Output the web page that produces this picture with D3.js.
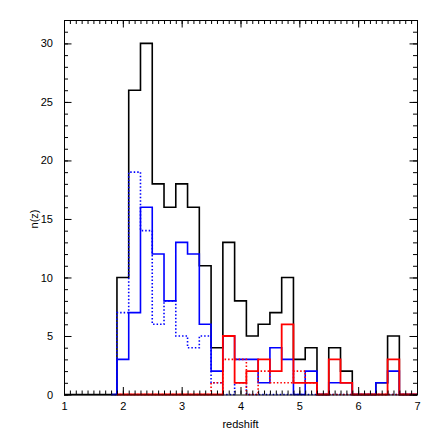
<!DOCTYPE html>
<html>
<head>
<meta charset="utf-8">
<script src="https://cdn.jsdelivr.net/npm/d3@7"></script>
<style>
  body { margin: 0; background: #fff; }
  svg { display: block; }
  .axis text { font: 11px "Liberation Sans", Arial, sans-serif; fill: #000; }
  .axis line { stroke: #000; }
</style>
</head>
<body>
<svg width="436" height="436"></svg>
<script>
// bin edges in redshift (bin width 0.2)
const binEdges = [1.9, 2.1, 2.3, 2.5, 2.7, 2.9, 3.1, 3.3, 3.5, 3.7, 3.9, 4.1, 4.3,
                  4.5, 4.7, 4.9, 5.1, 5.3, 5.5, 5.7, 5.9, 6.1, 6.3, 6.5, 6.7, 6.9];

// counts per bin
const totalCounts   = [10, 26, 30, 18, 16, 18, 16, 11, 4, 13, 8, 5, 6, 7, 10, 3, 4, 0, 4, 2, 0, 0, 1, 5, 0];
const blueCounts    = [3, 7, 16, 12, 8, 13, 12, 6, 2, 5, 3, 3, 1, 4, 3, 0, 2, 0, 1, 1, 0, 0, 1, 2, 0];
const blueDotCounts = [7, 19, 14, 6, 8, 5, 4, 5, 1, 0, 1, 0, 0, 0, 0, 0, 0, 0, 0, 0, 0, 0, 0, 0, 0];
const redCounts     = [0, 0, 0, 0, 0, 0, 0, 0, 0, 5, 1, 2, 3, 2, 6, 1, 1, 0, 3, 1, 0, 0, 0, 3, 0];
const redDotCounts  = [0, 0, 0, 0, 0, 0, 0, 0, 1, 3, 3, 0, 2, 1, 1, 2, 1, 0, 0, 0, 0, 0, 0, 0, 0];

// where each histogram starts running along zero
const lineStarts = [1.0, 1.8, 1.8, 3.4, 3.4];

const xTicks = [1, 2, 3, 4, 5, 6, 7];
const yTicks = [0, 5, 10, 15, 20, 25, 30];

let svg = d3.select("svg"),
    margin = {top: 20, right: 417, bottom: 394.5, left: 64};

let x = d3.scaleLinear().domain([1, 7]).range([margin.left, margin.right]),
    y = d3.scaleLinear().domain([0, 32]).range([margin.bottom, margin.top]);

let line = d3.line()
    .x((d) => x(d[0]))
    .y((d) => y(d[1]))
    .curve(d3.curveStepAfter);

let steps = (counts, start) => {
  let pts = [[start, 0]];
  counts.forEach((c, i) => pts.push([binEdges[i], c]));
  pts.push([binEdges[binEdges.length - 1], 0]);
  pts.push([7, 0]);
  return pts;
};

let series = [
  {counts: totalCounts,   start: lineStarts[0], color: "#000",    width: 1.6, dash: null},
  {counts: blueDotCounts, start: lineStarts[2], color: "#0000ff", width: 1.6, dash: "1.5,2"},
  {counts: blueCounts,    start: lineStarts[1], color: "#0000ff", width: 1.6, dash: null},
  {counts: redDotCounts,  start: lineStarts[4], color: "#ff0000", width: 1.6, dash: "1.5,2"},
  {counts: redCounts,     start: lineStarts[3], color: "#ff0000", width: 1.8, dash: null}
];

svg.selectAll(".hist")
  .data(series)
  .enter().append("path")
    .attr("class", "hist")
    .attr("fill", "none")
    .attr("stroke", (d) => d.color)
    .attr("stroke-width", (d) => d.width)
    .attr("stroke-dasharray", (d) => d.dash)
    .attr("d", (d) => line(steps(d.counts, d.start)));

// minor ticks
let xMinor = d3.range(10, 71).map((v) => v / 10),
    yMinor = d3.range(0, 33);

let addAxis = (axis, tx, ty) => {
  let g = svg.append("g")
      .attr("class", "axis")
      .attr("transform", "translate(" + tx + "," + ty + ")")
      .call(axis);
  g.select(".domain").remove();
  return g;
};

addAxis(d3.axisBottom(x).tickValues(xMinor).tickSize(-4).tickFormat(""), 0, margin.bottom);
addAxis(d3.axisTop(x).tickValues(xMinor).tickSize(-4).tickFormat(""), 0, margin.top);
addAxis(d3.axisLeft(y).tickValues(yMinor).tickSize(-4).tickFormat(""), margin.left, 0);
addAxis(d3.axisRight(y).tickValues(yMinor).tickSize(-4).tickFormat(""), margin.right, 0);

addAxis(d3.axisBottom(x).tickValues(xTicks).tickSize(-7.5).tickPadding(8).tickFormat(d3.format("d")), 0, margin.bottom);
addAxis(d3.axisTop(x).tickValues(xTicks).tickSize(-7.5).tickFormat(""), 0, margin.top);
addAxis(d3.axisLeft(y).tickValues(yTicks).tickSize(-7.5).tickPadding(11).tickFormat(d3.format("d")), margin.left, 0);
addAxis(d3.axisRight(y).tickValues(yTicks).tickSize(-7.5).tickFormat(""), margin.right, 0);

// frame
svg.append("rect")
    .attr("x", margin.left + 0.5)
    .attr("y", margin.top + 0.5)
    .attr("width", margin.right - margin.left)
    .attr("height", margin.bottom - margin.top)
    .attr("fill", "none")
    .attr("stroke", "#000")
    .attr("stroke-width", 1);

svg.append("text")
    .attr("x", (margin.left + margin.right) / 2)
    .attr("y", 428)
    .attr("text-anchor", "middle")
    .style("font", "11px 'Liberation Sans', Arial, sans-serif")
    .text("redshift");

svg.append("text")
    .attr("transform", "translate(38,219) rotate(-90)")
    .attr("text-anchor", "middle")
    .style("font", "11px 'Liberation Sans', Arial, sans-serif")
    .text("n(z)");
</script>
</body>
</html>
